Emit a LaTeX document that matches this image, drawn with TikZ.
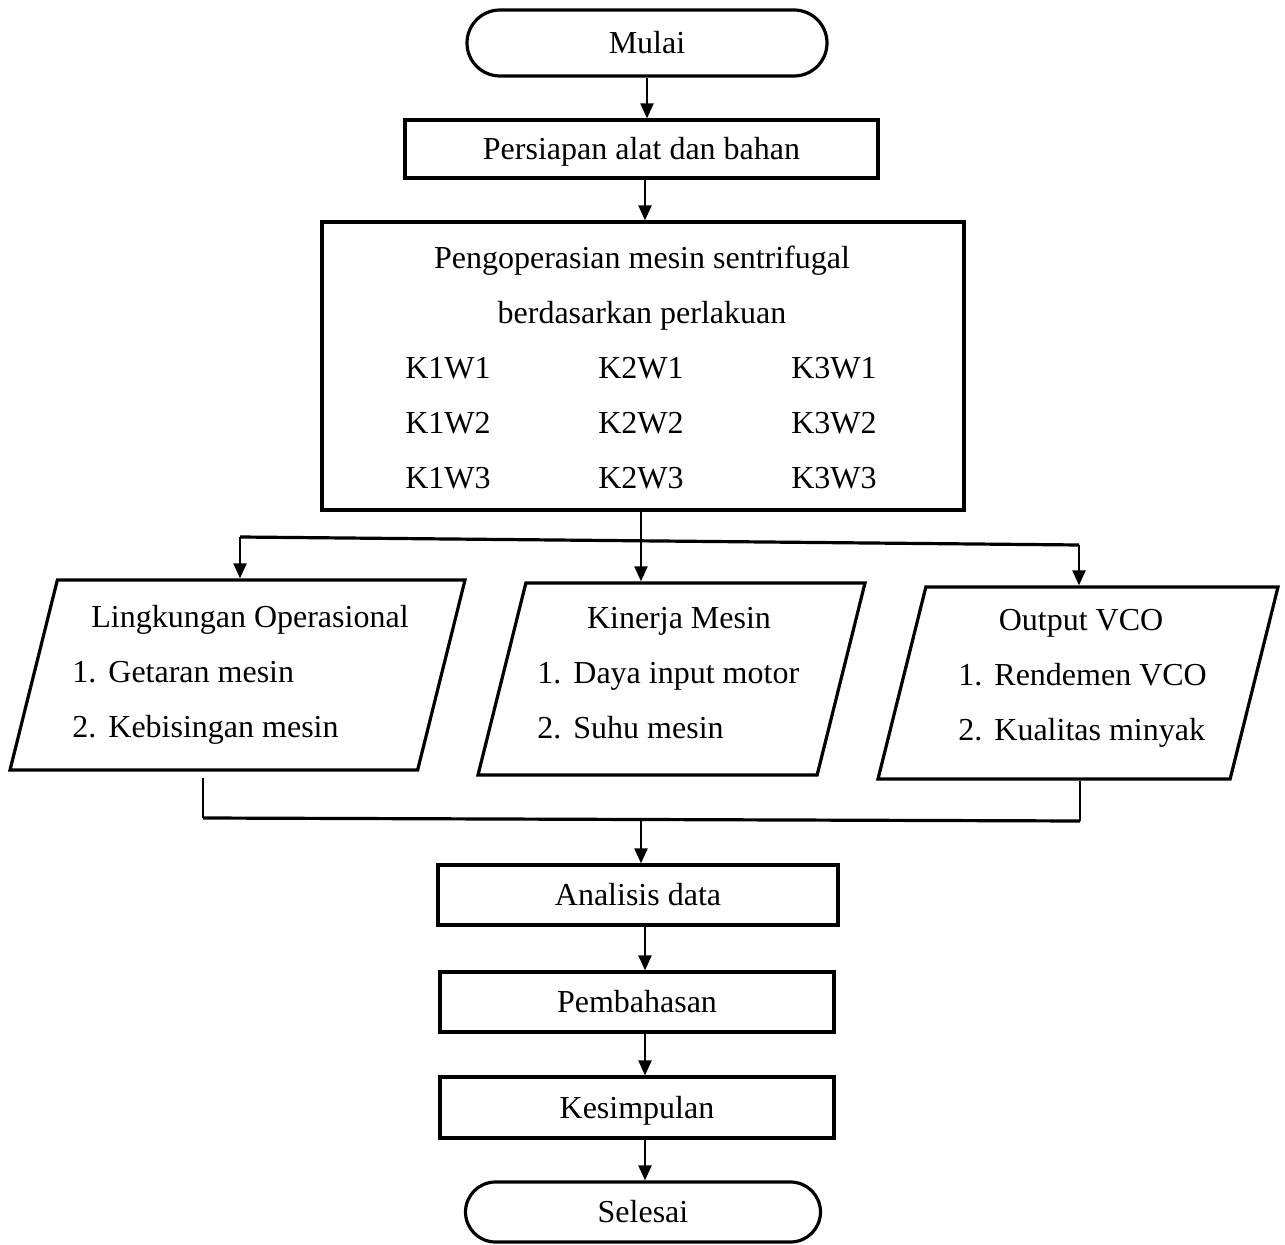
\documentclass[tikz,border=0pt]{standalone}
\usepackage{fontspec}
\setmainfont{Liberation Serif}
\usepackage{tikz}
\usetikzlibrary{arrows.meta,shapes.misc,shapes.geometric}

\newcommand{\butir}[2]{\makebox[18pt][l]{#1.}#2}

\begin{document}
\begin{tikzpicture}[x=0.5pt,y=-0.5pt,font=\fontsize{16}{19}\selectfont,
		tulis/.style={text height=11pt,text depth=0.5pt,inner sep=0pt},
		kotak/.style={draw,line width=1.6pt,rectangle,inner sep=0pt,tulis},
		ujung/.style={draw,line width=1.6pt,rounded rectangle,minimum width=180pt,minimum height=33pt,inner sep=0pt,tulis},
		jajar/.style={draw,line width=1.6pt,trapezium,trapezium left angle=76,trapezium right angle=104,trapezium stretches body=true,inner xsep=1pt,inner ysep=0pt,text depth=0pt,text height=#1},
		panah/.style={-{Triangle[length=7.5pt,width=6.5pt]},line width=1.1pt},
		garis/.style={line width=1.6pt}]
			\useasboundingbox (0,0) rectangle (1285,1245);
			\coordinate (porosatas) at (647,0);
			\coordinate (porostengah) at (641,0);
			\coordinate (poros) at (645,0);
			\node[ujung] (mulai) at (647,43) {Mulai};
			\node[kotak,minimum width=236.5pt,minimum height=29pt] (persiapan) at (641.5,149) {Persiapan alat dan bahan};
			\node[kotak,minimum width=321pt,minimum height=144pt] (operasi) at (643,366) {};
			\node[tulis] (judul1) at (642,258) {Pengoperasian mesin sentrifugal};
			\node[tulis] (judul2) at (642,313) {berdasarkan perlakuan};
			\foreach \k/\x in {1/448,2/641,3/834}{
				\foreach \w/\y in {1/368,2/423,3/478}{
					\node[tulis] (k\k w\w) at (\x,\y) {K\k W\w};
				}
			}
			\draw[panah] (mulai.south -| porosatas) -- (persiapan.north -| porosatas);
			\draw[panah] (persiapan.south -| poros) -- (operasi.north -| poros);

			\node[jajar=95pt,minimum width=227.5pt] (lingk) at (237.5,675) {};
			\node[tulis] (lingkjudul) at (250,617) {Lingkungan Operasional};
			\node[tulis,anchor=west] (lingk1) at (72,672) {\butir{1}{Getaran mesin}};
			\node[tulis,anchor=west] (lingk2) at (72,727) {\butir{2}{Kebisingan mesin}};

			\node[jajar=96pt,minimum width=193.5pt] (kinerja) at (671.5,679) {};
			\node[tulis] (kinerjajudul) at (679,618) {Kinerja Mesin};
			\node[tulis,anchor=west] (kinerja1) at (537,673) {\butir{1}{Daya input motor}};
			\node[tulis,anchor=west] (kinerja2) at (537,728) {\butir{2}{Suhu mesin}};

			\node[jajar=96pt,minimum width=200pt] (output) at (1078,683) {};
			\node[tulis] (outputjudul) at (1081,620) {Output VCO};
			\node[tulis,anchor=west] (output1) at (958,675) {\butir{1}{Rendemen VCO}};
			\node[tulis,anchor=west] (output2) at (958,730) {\butir{2}{Kualitas minyak}};

			\coordinate (kiri) at (240,537);
			\coordinate (kanan) at (1079,545);
			\draw[garis] (kiri) -- (kanan);
			\draw[panah] (kiri) -- (kiri |- lingk.north);
			\draw[panah] (operasi.south -| porostengah) -- (kinerja.north -| porostengah);
			\draw[panah] (kanan) -- (kanan |- output.north);

			\coordinate (lingkbawah) at (203,778);
			\coordinate (bawahkiri) at (203,818);
			\coordinate (bawahkanan) at (1080,821);
			\coordinate (tengahbawah) at (641,819.5);
			\draw[line width=1.1pt] (lingkbawah) -- (bawahkiri);
			\draw[line width=1.1pt] (output.south -| bawahkanan) -- (bawahkanan);
			\draw[garis] (bawahkiri) -- (bawahkanan);

			\node[kotak,minimum width=200pt,minimum height=30pt] (analisis) at (638,895) {Analisis data};
			\node[kotak,minimum width=197pt,minimum height=30pt] (pembahasan) at (637,1002) {Pembahasan};
			\node[kotak,minimum width=197pt,minimum height=30.5pt] (kesimpulan) at (637,1107.5) {Kesimpulan};
			\node[ujung,minimum width=177.5pt,minimum height=30pt] (selesai) at (643,1212) {Selesai};

			\draw[panah] (tengahbawah) -- (tengahbawah |- analisis.north);
			\draw[panah] (analisis.south -| poros) -- (pembahasan.north -| poros);
			\draw[panah] (pembahasan.south -| poros) -- (kesimpulan.north -| poros);
			\draw[panah] (kesimpulan.south -| poros) -- (selesai.north -| poros);
		\end{tikzpicture}
\end{document}
